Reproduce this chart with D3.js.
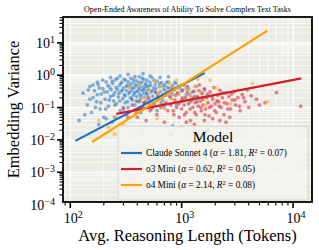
<!DOCTYPE html>
<html>
<head>
<meta charset="utf-8">
<script src="https://cdn.jsdelivr.net/npm/d3@7"></script>
<style>
  body { margin: 0; background: #fff; }
  text { font-family: 'Liberation Serif', 'DejaVu Serif', serif; }
</style>
</head>
<body>
<div id="chart"></div>
<script>
// data: [avg reasoning length, embedding variance]
const models = ['Claude Sonnet 4', 'o3 Mini', 'o4 Mini']
const alphas = [1.81, 0.62, 2.14]
const r2s = [0.07, 0.05, 0.08]
const colors = ['#1f6fc0', '#d21f2b', '#ffa200']

const claudePts = [
  [130,0.28],[142,0.12],[150,0.45],[155,0.07],[160,0.2],[165,0.33],[172,0.15],[178,0.52],[185,0.09],[190,0.26],
  [196,0.38],[200,0.05],[205,0.18],[210,0.62],[215,0.3],[220,0.11],[226,0.42],[230,0.22],[236,0.035],[240,0.55],
  [245,0.16],[250,0.29],[255,0.72],[260,0.13],[265,0.36],[270,0.21],[276,0.48],[280,0.08],[285,0.31],[290,0.6],
  [296,0.19],[300,0.4],[305,0.25],[310,0.14],[316,0.68],[320,0.33],[325,0.5],[330,0.1],[336,0.27],[340,0.44],
  [346,0.2],[350,0.8],[356,0.35],[360,0.17],[366,0.58],[370,0.24],[376,0.41],[380,0.12],[386,0.3],[390,0.66],
  [396,0.22],[400,0.47],[406,0.15],[410,0.37],[416,0.9],[420,0.26],[426,0.53],[430,0.19],[436,0.34],[440,0.62],
  [446,0.09],[450,0.43],[456,0.28],[460,0.75],[466,0.21],[470,0.39],[476,0.56],[480,0.16],[486,0.32],[490,0.7],
  [496,0.25],[500,0.46],[510,0.18],[520,0.6],[530,0.3],[540,0.85],[550,0.22],[560,0.4],[570,0.13],[580,0.52],
  [590,0.28],[600,0.65],[615,0.2],[630,0.44],[645,0.31],[660,0.58],[675,0.17],[690,0.38],[705,0.5],[720,0.24],
  [740,0.42],[760,0.62],[780,0.3],[800,0.2],[830,0.48],[860,0.35],[890,0.55],[920,0.27],[960,0.4],[1000,0.32],
  [1050,0.5],[1100,0.25],[1150,0.38],[1250,0.3],[1350,0.45],[1500,0.28],[1600,0.35],[120,0.04],[135,0.06],[180,0.03],
  [210,0.045],[250,0.05],[320,0.06],[430,0.07],[600,0.08],[700,0.1],[900,0.12],[830,0.027],[1200,0.15],[1400,0.2],
  [145,0.35],[175,0.6],[230,0.85],[280,0.95],[330,1.05],[380,0.9],[450,1.1],[520,0.95],[640,0.85],[760,0.9],
  [150,0.18],[160,0.5],[168,0.1],[175,0.25],[182,0.4],[188,0.14],[195,0.7],[202,0.3],[208,0.09],[218,0.48],
  [224,0.17],[232,0.36],[238,0.65],[244,0.24],[252,0.12],[258,0.42],[264,0.8],[272,0.27],[278,0.16],[284,0.55],
  [292,0.34],[298,0.1],[304,0.75],[312,0.23],[318,0.45],[326,0.15],[334,0.62],[342,0.3],[348,0.52],[354,0.19],
  [362,0.4],[368,0.72],[374,0.28],[384,0.5],[392,0.16],[402,0.32],[412,0.6],[422,0.42],[432,0.23],[442,0.8],
  [452,0.35],[462,0.14],[472,0.5],[482,0.27],[492,0.43],[505,0.36],[515,0.12],[525,0.48],[545,0.33],[565,0.7],
  [585,0.38],[610,0.26],[635,0.55],[655,0.14],[685,0.47],[710,0.33],[735,0.6],[770,0.4],[820,0.26],[870,0.6],
  [940,0.45],[1020,0.2],[1120,0.4],[1300,0.22]
]

const o3Pts = [
  [300,0.09],[330,0.05],[360,0.12],[390,0.07],[420,0.16],[450,0.1],[480,0.04],[500,0.2],[520,0.08],[550,0.13],
  [580,0.3],[600,0.06],[620,0.18],[650,0.1],[680,0.25],[700,0.035],[720,0.14],[750,0.08],[780,0.22],[800,0.12],
  [820,0.4],[850,0.06],[870,0.17],[900,0.1],[920,0.28],[950,0.05],[980,0.15],[1000,0.09],[1020,0.35],[1050,0.12],
  [1080,0.2],[1100,0.07],[1120,0.45],[1150,0.13],[1180,0.25],[1200,0.04],[1230,0.17],[1260,0.1],[1290,0.32],[1320,0.14],
  [1350,0.06],[1380,0.22],[1410,0.11],[1440,0.5],[1470,0.16],[1500,0.08],[1530,0.27],[1560,0.12],[1600,0.38],[1640,0.09],
  [1680,0.2],[1720,0.14],[1760,0.055],[1800,0.3],[1850,0.11],[1900,0.18],[1950,0.42],[2000,0.13],[2050,0.07],[2100,0.24],
  [2150,0.15],[2200,0.34],[2260,0.1],[2320,0.2],[2400,0.06],[2480,0.28],[2560,0.13],[2650,0.22],[2750,0.09],[2850,0.17],
  [2950,0.3],[3050,0.12],[3200,0.2],[3350,0.08],[3500,0.25],[3700,0.15],[3900,0.35],[4200,0.23],[4700,0.18],[5000,0.12],
  [5600,0.14],[7100,0.29],[11700,0.11],[1000,0.025],[1300,0.03],[1700,0.02],[2200,0.04],[800,0.015],[1500,0.012],[2500,0.035],
  [400,0.05],[460,0.14],[540,0.09],[610,0.22],[690,0.12],[760,0.3],[840,0.08],[880,0.24],[940,0.13],[1010,0.18],
  [1060,0.06],[1130,0.3],[1190,0.09],[1250,0.2],[1310,0.07],[1370,0.15],[1430,0.33],[1490,0.1],[1550,0.18],[1620,0.06],
  [1700,0.26],[1780,0.1],[1870,0.22],[1980,0.08],[2080,0.16],[2180,0.11],[2300,0.28],[2420,0.14],[2600,0.09],[2800,0.26],
  [3000,0.17],[3300,0.11],[3600,0.2],[4000,0.1],[1100,0.035],[1600,0.04],[1900,0.045],[2700,0.05]
]

const o4Pts = [
  [180,0.04],[220,0.025],[260,0.05],[300,0.03],[340,0.4],[380,0.06],[420,0.5],[460,0.2],[500,0.35],[540,0.12],
  [580,0.6],[620,0.28],[660,0.45],[700,0.09],[740,0.3],[780,0.55],[820,0.18],[860,0.4],[900,0.7],[950,0.25],
  [1000,0.5],[1050,0.15],[1100,0.38],[1150,0.65],[1200,0.22],[1300,0.45],[1400,0.75],[1500,0.3],[1650,0.12],[1800,0.7],
  [2000,0.4],[2200,0.25],[2750,0.13],[3200,0.35],[4300,0.55],[5900,0.15],[250,0.015],[450,0.02],[600,0.045]
]

// fitted power-law lines, endpoints
const claudeFit = [[111, 0.0093], [1607, 1.17]]
const o3Fit = [[259, 0.064], [11870, 0.8]]
const o4Fit = [[157, 0.0086], [5890, 24]]

const xTicks = [100, 1000, 10000]
const yTicks = [1e1, 1e0, 1e-1, 1e-2, 1e-3, 1e-4]

////////////////////////////////////////////////////////////////////////
let width = 319
let height = 250
let margin = { left: 63, right: 7, top: 17, bottom: 48 }

let svg = d3.select('#chart')
  .append('svg')
  .attr('width', width)
  .attr('height', height)

let xScale = d3.scaleLog()
  .domain([86, 14800])
  .range([margin.left, width - margin.right])

let yScale = d3.scaleLog()
  .domain([1.2e-4, 63])
  .range([height - margin.bottom, margin.top])

let x0 = margin.left, x1 = width - margin.right
let y0 = margin.top, y1 = height - margin.bottom

// plot background
svg.append('rect')
  .attr('x', x0).attr('y', y0)
  .attr('width', x1 - x0).attr('height', y1 - y0)
  .attr('fill', '#ebebe4')

// minor/major values inside the domain
function logValues (domain) {
  let out = []
  let lo = Math.floor(Math.log10(domain[0]))
  let hi = Math.ceil(Math.log10(domain[1]))
  for (let e = lo; e <= hi; e++) {
    for (let m = 1; m < 10; m++) {
      let v = m * Math.pow(10, e)
      if (v >= domain[0] && v <= domain[1]) out.push({ v: v, major: m === 1 })
    }
  }
  return out
}
let xVals = logValues(xScale.domain())
let yVals = logValues(yScale.domain())

let grid = svg.append('g').attr('id', 'grid')
grid.selectAll('line.gx')
  .data(xVals)
  .enter()
  .append('line')
  .attr('x1', d => xScale(d.v)).attr('x2', d => xScale(d.v))
  .attr('y1', y0).attr('y2', y1)
  .attr('stroke', '#fff')
  .attr('stroke-width', d => d.major ? 1.3 : 0.7)
grid.selectAll('line.gy')
  .data(yVals)
  .enter()
  .append('line')
  .attr('y1', d => yScale(d.v)).attr('y2', d => yScale(d.v))
  .attr('x1', x0).attr('x2', x1)
  .attr('stroke', '#fff')
  .attr('stroke-width', d => d.major ? 1.3 : 0.7)

// scatter + fit line for each model
let clip = svg.append('clipPath').attr('id', 'clip')
clip.append('rect').attr('x', x0).attr('y', y0).attr('width', x1 - x0).attr('height', y1 - y0)

let plot = svg.append('g').attr('clip-path', 'url(#clip)')
let allPts = [claudePts, o3Pts, o4Pts]
let allFits = [claudeFit, o3Fit, o4Fit]
let line = d3.line().x(d => xScale(d[0])).y(d => yScale(d[1]))

allPts.forEach((pts, i) => {
  plot.append('g')
    .selectAll('circle')
    .data(pts)
    .enter()
    .append('circle')
    .attr('cx', d => xScale(d[0]))
    .attr('cy', d => yScale(d[1]))
    .attr('r', 2)
    .attr('fill', colors[i])
    .attr('fill-opacity', 0.55)
    .attr('stroke', '#fff')
    .attr('stroke-opacity', 0.5)
    .attr('stroke-width', 0.4)
})
allFits.forEach((f, i) => {
  plot.append('path')
    .datum(f)
    .attr('d', line)
    .attr('fill', 'none')
    .attr('stroke', colors[i])
    .attr('stroke-width', 2.2)
})

// frame
svg.append('rect')
  .attr('x', x0).attr('y', y0)
  .attr('width', x1 - x0).attr('height', y1 - y0)
  .attr('fill', 'none')
  .attr('stroke', '#000')
  .attr('stroke-width', 1.8)

// ticks
let ticks = svg.append('g').attr('stroke', '#000')
ticks.selectAll('line.tx')
  .data(xVals)
  .enter()
  .append('line')
  .attr('x1', d => xScale(d.v)).attr('x2', d => xScale(d.v))
  .attr('y1', y1).attr('y2', d => y1 + (d.major ? 6 : 3.5))
  .attr('stroke-width', d => d.major ? 1.6 : 1.1)
ticks.selectAll('line.ty')
  .data(yVals)
  .enter()
  .append('line')
  .attr('y1', d => yScale(d.v)).attr('y2', d => yScale(d.v))
  .attr('x1', x0).attr('x2', d => x0 - (d.major ? 6 : 3.5))
  .attr('stroke-width', d => d.major ? 1.6 : 1.1)

// tick labels like 10^k
function powLabel (sel, v) {
  let e = Math.round(Math.log10(v))
  sel.append('tspan').text('10')
  sel.append('tspan').attr('dy', -5).attr('font-size', 10).text(e < 0 ? '\u2212' + (-e) : e)
}
xTicks.forEach(v => {
  let t = svg.append('text')
    .attr('x', xScale(v) + 3)
    .attr('y', y1 + 21)
    .attr('text-anchor', 'middle')
    .attr('font-size', 14)
  powLabel(t, v)
})
yTicks.forEach(v => {
  let t = svg.append('text')
    .attr('x', x0 - 8)
    .attr('y', yScale(v) + 5)
    .attr('text-anchor', 'end')
    .attr('font-size', 14)
  powLabel(t, v)
})

// axis labels and title
svg.append('text')
  .attr('x', (x0 + x1) / 2)
  .attr('y', 241)
  .attr('text-anchor', 'middle')
  .attr('font-size', 16.5)
  .text('Avg. Reasoning Length (Tokens)')

svg.append('text')
  .attr('transform', 'translate(19,' + ((y0 + y1) / 2) + ') rotate(-90)')
  .attr('text-anchor', 'middle')
  .attr('font-size', 16.5)
  .text('Embedding Variance')

svg.append('text')
  .attr('x', (x0 + x1) / 2)
  .attr('y', 12)
  .attr('text-anchor', 'middle')
  .attr('font-size', 8)
  .text('Open-Ended Awareness of Ability To Solve Complex Text Tasks')

// legend
let leg = svg.append('g').attr('transform', 'translate(118,126)')
leg.append('rect')
  .attr('width', 190).attr('height', 74)
  .attr('rx', 2)
  .attr('fill', '#f3f3ef')
  .attr('fill-opacity', 0.85)
  .attr('stroke', '#ccc')
  .attr('stroke-width', 0.8)
leg.append('text')
  .attr('x', 95).attr('y', 16)
  .attr('text-anchor', 'middle')
  .attr('font-size', 15.5)
  .text('Model')

models.forEach((m, i) => {
  let y = 27 + i * 16
  leg.append('line')
    .attr('x1', 3).attr('x2', 24)
    .attr('y1', y).attr('y2', y)
    .attr('stroke', colors[i])
    .attr('stroke-width', 2.2)
  let t = leg.append('text')
    .attr('x', 28).attr('y', y + 3)
    .attr('font-size', 9.3)
  t.append('tspan').text(m + ' (')
  t.append('tspan').attr('font-style', 'italic').text('\u03b1')
  t.append('tspan').text(' = ' + alphas[i].toFixed(2) + ', ')
  t.append('tspan').attr('font-style', 'italic').text('R')
  t.append('tspan').attr('dy', -3).attr('font-size', 6.5).text('2')
  t.append('tspan').attr('dy', 3).text(' = ' + r2s[i].toFixed(2) + ')')
})
</script>
</body>
</html>
